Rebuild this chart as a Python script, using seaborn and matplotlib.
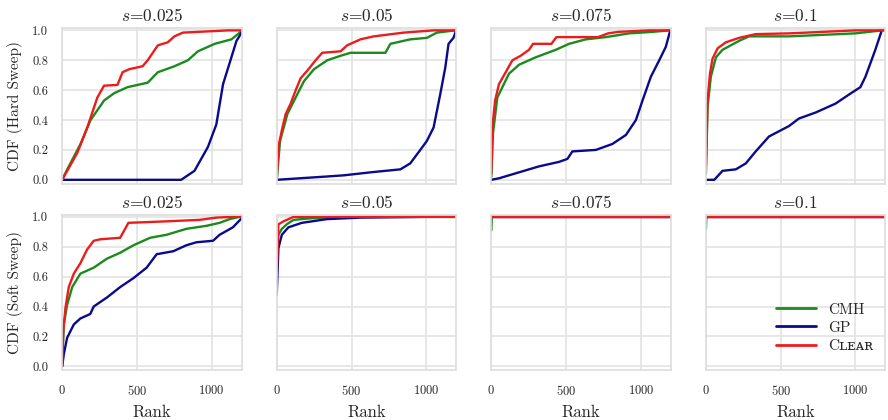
import numpy as np
import pandas as pd
import seaborn as sns
import matplotlib
matplotlib.use("Agg")
import matplotlib.pyplot as plt

# ---------------- data ----------------
s_values = ["0.025", "0.05", "0.075", "0.1"]
row_labels = ["CDF (Hard Sweep)", "CDF (Soft Sweep)"]
methods = ["CMH", "GP", "Cʟᴇᴀʀ"]

# Hard sweep, s=0.025
hard_025_cmh_rank = [0, 34, 123, 190, 280, 348, 437, 572, 640, 751, 841, 908, 1020, 1132, 1188, 1200]
hard_025_cmh_cdf = [0, 0.07, 0.24, 0.40, 0.53, 0.58, 0.62, 0.65, 0.72, 0.76, 0.80, 0.86, 0.91, 0.94, 0.985, 1.0]
hard_025_gp_rank = [0, 796, 885, 975, 1031, 1076, 1132, 1166, 1200]
hard_025_gp_cdf = [0, 0, 0.06, 0.22, 0.37, 0.64, 0.82, 0.93, 0.985]
hard_025_clear_rank = [0, 34, 101, 168, 235, 280, 370, 404, 448, 538, 572, 640, 706, 751, 807, 1110, 1200]
hard_025_clear_cdf = [0, 0.06, 0.18, 0.35, 0.55, 0.63, 0.635, 0.72, 0.74, 0.76, 0.80, 0.90, 0.92, 0.96, 0.985, 1.0, 1.0]

# Hard sweep, s=0.05
hard_05_cmh_rank = [0, 22, 71, 116, 182, 249, 338, 427, 493, 727, 760, 893, 1004, 1071, 1193]
hard_05_cmh_cdf = [0, 0.26, 0.44, 0.53, 0.66, 0.74, 0.80, 0.83, 0.85, 0.85, 0.91, 0.94, 0.95, 0.985, 1.0]
hard_05_gp_rank = [0, 304, 449, 627, 827, 893, 960, 1004, 1049, 1093, 1127, 1149, 1182, 1200]
hard_05_gp_cdf = [0, 0.02, 0.03, 0.05, 0.07, 0.11, 0.20, 0.26, 0.35, 0.57, 0.75, 0.91, 0.95, 1.0]
hard_05_clear_rank = [0, 11, 38, 60, 93, 127, 160, 204, 260, 304, 427, 471, 560, 649, 849, 1049, 1200]
hard_05_clear_cdf = [0, 0.22, 0.35, 0.44, 0.51, 0.60, 0.68, 0.73, 0.80, 0.85, 0.86, 0.90, 0.94, 0.96, 0.985, 1.0, 1.0]

# Hard sweep, s=0.075
hard_075_cmh_rank = [0, 11, 40, 74, 118, 185, 297, 431, 520, 632, 766, 922, 1078, 1190]
hard_075_cmh_cdf = [0.02, 0.31, 0.55, 0.62, 0.71, 0.77, 0.82, 0.87, 0.91, 0.94, 0.955, 0.98, 0.99, 1.0]
hard_075_gp_rank = [0, 51, 185, 319, 453, 509, 542, 699, 810, 900, 967, 1011, 1067, 1123, 1167, 1194]
hard_075_gp_cdf = [0, 0.01, 0.05, 0.09, 0.12, 0.14, 0.19, 0.20, 0.24, 0.30, 0.40, 0.53, 0.69, 0.80, 0.89, 0.99]
hard_075_clear_rank = [0, 7, 25, 51, 96, 141, 196, 252, 279, 402, 435, 714, 781, 848, 1056, 1200]
hard_075_clear_cdf = [0.04, 0.35, 0.53, 0.64, 0.72, 0.80, 0.83, 0.87, 0.91, 0.91, 0.955, 0.955, 0.98, 0.99, 1.0, 1.0]

# Hard sweep, s=0.1
hard_1_cmh_rank = [0, 11, 33, 67, 111, 222, 289, 556, 778, 1000, 1178, 1200]
hard_1_cmh_cdf = [0.04, 0.49, 0.69, 0.82, 0.87, 0.93, 0.96, 0.96, 0.97, 0.98, 1.0, 1.0]
hard_1_gp_rank = [0, 56, 111, 200, 267, 333, 422, 556, 622, 733, 867, 956, 1033, 1067, 1100, 1133, 1173]
hard_1_gp_cdf = [0, 0, 0.06, 0.07, 0.11, 0.19, 0.29, 0.36, 0.41, 0.45, 0.51, 0.57, 0.62, 0.69, 0.78, 0.87, 0.99]
hard_1_clear_rank = [0, 11, 27, 44, 78, 133, 222, 333, 556, 778, 1000, 1200]
hard_1_clear_cdf = [0.09, 0.53, 0.71, 0.81, 0.88, 0.92, 0.95, 0.975, 0.98, 0.99, 1.0, 1.0]

# Soft sweep, s=0.025
soft_025_cmh_rank = [0, 11, 33, 67, 122, 211, 299, 388, 477, 588, 698, 831, 965, 1053, 1120, 1186, 1200]
soft_025_cmh_cdf = [0, 0.28, 0.41, 0.53, 0.62, 0.66, 0.72, 0.76, 0.81, 0.86, 0.88, 0.92, 0.94, 0.96, 0.985, 1.0, 1.0]
soft_025_gp_rank = [0, 11, 33, 78, 122, 188, 211, 299, 388, 477, 565, 632, 743, 831, 898, 1009, 1053, 1142, 1200]
soft_025_gp_cdf = [0, 0.08, 0.19, 0.28, 0.32, 0.35, 0.40, 0.46, 0.53, 0.59, 0.66, 0.75, 0.77, 0.81, 0.83, 0.84, 0.88, 0.93, 0.99]
soft_025_clear_rank = [0, 7, 22, 44, 78, 122, 166, 211, 255, 388, 421, 443, 698, 920, 1031, 1142, 1200]
soft_025_clear_cdf = [0, 0.23, 0.39, 0.53, 0.62, 0.69, 0.78, 0.84, 0.85, 0.86, 0.92, 0.96, 0.97, 0.98, 0.995, 1.0, 1.0]

# Soft sweep, s=0.05
soft_05_cmh_rank = [0, 11, 34, 67, 112, 224, 404, 1200]
soft_05_cmh_cdf = [0.73, 0.88, 0.92, 0.95, 0.98, 0.99, 1.0, 1.0]
soft_05_gp_rank = [0, 11, 34, 78, 168, 336, 561, 1009, 1200]
soft_05_gp_cdf = [0.48, 0.79, 0.88, 0.93, 0.96, 0.985, 0.995, 1.0, 1.0]
soft_05_clear_rank = [0, 11, 45, 101, 112, 1200]
soft_05_clear_cdf = [0.61, 0.95, 0.97, 0.995, 1.0, 1.0]

# Soft sweep, s=0.075
soft_075_cmh_rank = [0, 3, 1200]
soft_075_cmh_cdf = [0.91, 1.0, 1.0]
soft_075_gp_rank = [0, 1200]
soft_075_gp_cdf = [1.0, 1.0]
soft_075_clear_rank = [0, 1200]
soft_075_clear_cdf = [1.0, 1.0]

# Soft sweep, s=0.1
soft_1_cmh_rank = [0, 3, 1200]
soft_1_cmh_cdf = [0.92, 1.0, 1.0]
soft_1_gp_rank = [0, 1200]
soft_1_gp_cdf = [1.0, 1.0]
soft_1_clear_rank = [0, 1200]
soft_1_clear_cdf = [1.0, 1.0]

panels = {
    (0, 0): [(hard_025_cmh_rank, hard_025_cmh_cdf), (hard_025_gp_rank, hard_025_gp_cdf), (hard_025_clear_rank, hard_025_clear_cdf)],
    (0, 1): [(hard_05_cmh_rank, hard_05_cmh_cdf), (hard_05_gp_rank, hard_05_gp_cdf), (hard_05_clear_rank, hard_05_clear_cdf)],
    (0, 2): [(hard_075_cmh_rank, hard_075_cmh_cdf), (hard_075_gp_rank, hard_075_gp_cdf), (hard_075_clear_rank, hard_075_clear_cdf)],
    (0, 3): [(hard_1_cmh_rank, hard_1_cmh_cdf), (hard_1_gp_rank, hard_1_gp_cdf), (hard_1_clear_rank, hard_1_clear_cdf)],
    (1, 0): [(soft_025_cmh_rank, soft_025_cmh_cdf), (soft_025_gp_rank, soft_025_gp_cdf), (soft_025_clear_rank, soft_025_clear_cdf)],
    (1, 1): [(soft_05_cmh_rank, soft_05_cmh_cdf), (soft_05_gp_rank, soft_05_gp_cdf), (soft_05_clear_rank, soft_05_clear_cdf)],
    (1, 2): [(soft_075_cmh_rank, soft_075_cmh_cdf), (soft_075_gp_rank, soft_075_gp_cdf), (soft_075_clear_rank, soft_075_clear_cdf)],
    (1, 3): [(soft_1_cmh_rank, soft_1_cmh_cdf), (soft_1_gp_rank, soft_1_gp_cdf), (soft_1_clear_rank, soft_1_clear_cdf)],
}

colors = {"CMH": "#1c8a1c", "GP": "#0a0a8c", "Cʟᴇᴀʀ": "#ec1c1c"}

# ---------------- style ----------------
sns.set_theme(style="whitegrid")
plt.rcParams.update({
    "font.family": ["cmr10", "DejaVu Serif"],
    "mathtext.fontset": "cm",
    "axes.formatter.use_mathtext": True,
    "axes.edgecolor": "#dddddd",
    "grid.color": "#e3e3e3",
    "grid.linewidth": 1.2,
    "axes.linewidth": 1.2,
})

fig, axes = plt.subplots(2, 4, figsize=(8.88, 4.2), dpi=100, sharex=True, sharey=True)
fig.subplots_adjust(left=0.07, right=0.997, top=0.933, bottom=0.119, wspace=0.196, hspace=0.2)

for (r, c), series in panels.items():
    ax = axes[r, c]
    frames = []
    for m, (rk, cd) in zip(methods, series):
        frames.append(pd.DataFrame({"Rank": rk, "CDF": cd, "Method": m}))
    df = pd.concat(frames, ignore_index=True)
    sns.lineplot(data=df, x="Rank", y="CDF", hue="Method", hue_order=methods,
                 palette=colors, estimator=None, sort=True, linewidth=1.7,
                 legend=(r == 1 and c == 3), ax=ax)
    ax.set_xlim(0, 1200)
    ax.set_ylim(-0.025, 1.015)
    ax.set_xticks([0, 500, 1000])
    ax.set_yticks([0, 0.2, 0.4, 0.6, 0.8, 1.0])
    ax.set_yticklabels(["0.0", "0.2", "0.4", "0.6", "0.8", "1.0"])
    ax.set_title(r"$s$=" + s_values[c], fontsize=12.5, pad=5)
    ax.tick_params(labelsize=9, pad=4)
    ax.set_xlabel("Rank" if r == 1 else "", fontsize=12, labelpad=5)
    ax.set_ylabel(row_labels[r] if c == 0 else "", fontsize=11, labelpad=7)
    for sp in ax.spines.values():
        sp.set_color("#dddddd")

leg_ax = axes[1, 3]
leg = leg_ax.legend(loc="lower right", frameon=False, fontsize=11,
                    handlelength=2.6, borderaxespad=0.4, labelspacing=0.3,
                    bbox_to_anchor=(1.0, 0.03))
for line in leg.get_lines():
    line.set_linewidth(2)

fig.savefig("out.png", dpi=100)
